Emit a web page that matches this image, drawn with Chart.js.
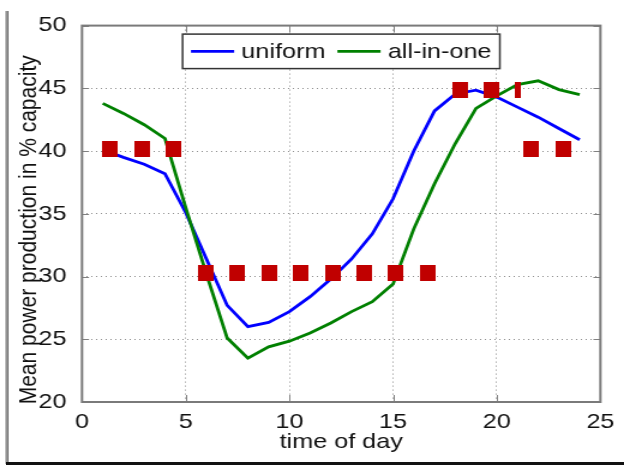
<!DOCTYPE html>
<html>
<head>
<meta charset="utf-8">
<script src="https://cdn.jsdelivr.net/npm/chart.js@4.4.0/dist/chart.umd.min.js"></script>
<style>
  html, body { margin: 0; padding: 0; background: #fff; overflow: hidden; }
  #page { position: relative; width: 624px; height: 466px; background: #fff; }
  /* the figure is drawn narrow and widened, as in the exported figure */
  #stretch { position: absolute; left: 0; top: 0; width: 520px; height: 466px;
             transform: scaleX(1.2); transform-origin: 0 0; }
  #edgeL { position: absolute; left: 5px; top: 11px; width: 4px; height: 453px;
           background: linear-gradient(to right, #d0d0d0, #7c7c7c 55%, #b8b8b8); }
  #edgeB { position: absolute; left: 6px; top: 462px; width: 618px; height: 3px; background: #111; }
</style>
</head>
<body>
<div id="page">
  <div id="stretch"><canvas id="c" width="520" height="466"></canvas></div>
  <div id="edgeL"></div>
  <div id="edgeB"></div>
</div>
<script>
// hour of day
const hours = [1, 2, 3, 4, 5, 6, 7, 8, 9, 10, 11, 12, 13, 14, 15, 16, 17, 18, 19, 20, 21, 22, 23, 24];
// mean power production (% of capacity)
const uniform  = [40.1, 39.5, 38.95, 38.2, 35.1, 31.4, 27.7, 26.0, 26.35, 27.2, 28.4, 29.8,
                  31.4, 33.4, 36.2, 40.0, 43.2, 44.55, 44.85, 44.3, 43.5, 42.7, 41.8, 40.9];
const allInOne = [43.8, 43.0, 42.1, 41.0, 35.5, 30.2, 25.1, 23.5, 24.4, 24.85, 25.5, 26.3,
                  27.2, 28.0, 29.4, 33.8, 37.4, 40.6, 43.4, 44.4, 45.3, 45.6, 44.9, 44.5];
// red level markers
const markerX = [1.35, 2.9, 4.42, 5.95, 7.49, 9.03, 10.56, 12.08, 13.62, 15.13, 16.66,
                 18.23, 19.76, 21.03, 21.67, 23.21];
const markerY = [40.2, 40.2, 40.2, 30.25, 30.25, 30.25, 30.25, 30.25, 30.25, 30.25, 30.25,
                 44.85, 44.85, 44.85, 40.2, 40.2];
const markerNarrow = [false, false, false, false, false, false, false, false, false, false, false,
                      false, false, true, false, false];
// axis ticks
const xTicks = [0, 5, 10, 15, 20, 25];
const yTicks = [20, 25, 30, 35, 40, 45, 50];
const yTitle = 'Mean power production in % capacity';

const SX = 1.2;               // horizontal widening of the canvas
const FONT = '"Liberation Sans", Arial, Helvetica, sans-serif';
const TEXT = '#111';

function markerImage(w, h) {
  const cv = document.createElement('canvas');
  cv.width = w; cv.height = h;
  const g = cv.getContext('2d');
  g.fillStyle = '#c00000';
  g.fillRect(0, 0, w, h);
  return cv;
}
const squareImg = markerImage(13, 16);
const barImg = markerImage(5, 16);

// inward tick marks, the axes box and the vertical axis title
const axesBox = {
  id: 'axesBox',
  afterDraw(chart) {
    const { ctx, chartArea: a, scales: { x, y } } = chart;
    ctx.save();
    ctx.strokeStyle = '#808080';
    ctx.lineWidth = 1;
    ctx.beginPath();
    xTicks.forEach(v => {
      const px = Math.round(x.getPixelForValue(v)) + 0.5;
      ctx.moveTo(px, a.bottom); ctx.lineTo(px, a.bottom - 7);
      ctx.moveTo(px, a.top); ctx.lineTo(px, a.top + 7);
    });
    yTicks.forEach(v => {
      const py = Math.round(y.getPixelForValue(v)) + 0.5;
      ctx.moveTo(a.left, py); ctx.lineTo(a.left + 7 / SX, py);
      ctx.moveTo(a.right, py); ctx.lineTo(a.right - 7 / SX, py);
    });
    ctx.stroke();
    ctx.lineWidth = 2;
    ctx.strokeStyle = '#7a7a7a';
    ctx.strokeRect(a.left, a.top, a.right - a.left, a.bottom - a.top);

    ctx.translate(24.5, (a.top + a.bottom) / 2 + 16);
    ctx.rotate(-Math.PI / 2);
    ctx.font = '21px ' + FONT;
    ctx.fillStyle = TEXT;
    ctx.textAlign = 'center';
    ctx.textBaseline = 'middle';
    ctx.fillText(yTitle, 0, 0);
    ctx.restore();
  }
};

// boxed legend inside the top of the plot
const boxedLegend = {
  id: 'boxedLegend',
  afterDraw(chart) {
    const { ctx, chartArea: a } = chart;
    const items = chart.data.datasets.filter(d => d.legendRank)
      .sort((p, q) => p.legendRank - q.legendRank);
    ctx.save();
    ctx.font = '21px ' + FONT;
    const lineLen = 36, gap = 6, itemGap = 10, pad = 7, boxH = 34.5;
    const widths = items.map(d => ctx.measureText(d.label).width);
    let total = 0;
    items.forEach((d, i) => { total += lineLen + gap + widths[i] + (i ? itemGap : 0); });
    const boxW = total + 2 * pad;
    const bx = (a.left + a.right) / 2 - boxW / 2;
    const by = a.top + 8.5;
    ctx.fillStyle = '#fff';
    ctx.fillRect(bx, by, boxW, boxH);
    ctx.strokeStyle = '#333';
    ctx.lineWidth = 1.5;
    ctx.strokeRect(bx, by, boxW, boxH);
    let cx = bx + pad;
    const cy = by + boxH / 2;
    ctx.textBaseline = 'middle';
    items.forEach((d, i) => {
      ctx.strokeStyle = d.borderColor;
      ctx.lineWidth = d.borderWidth;
      ctx.beginPath();
      ctx.moveTo(cx, cy); ctx.lineTo(cx + lineLen, cy);
      ctx.stroke();
      cx += lineLen + gap;
      ctx.fillStyle = TEXT;
      ctx.fillText(d.label, cx, cy + 1);
      cx += widths[i] + itemGap;
    });
    ctx.restore();
  }
};

new Chart(document.getElementById('c'), {
  type: 'line',
  data: {
    datasets: [
      {
        label: 'levels',
        type: 'scatter',
        data: markerX.map((v, i) => ({ x: v, y: markerY[i] })),
        pointStyle: ctx => (markerNarrow[ctx.dataIndex] ? barImg : squareImg),
        order: 0
      },
      {
        label: 'all-in-one',
        legendRank: 2,
        data: hours.map((h, i) => ({ x: h, y: allInOne[i] })),
        borderColor: '#008000',
        borderWidth: 2.8,
        pointRadius: 0,
        fill: false,
        tension: 0,
        order: 1
      },
      {
        label: 'uniform',
        legendRank: 1,
        data: hours.map((h, i) => ({ x: h, y: uniform[i] })),
        borderColor: '#0000ff',
        borderWidth: 2.8,
        pointRadius: 0,
        fill: false,
        tension: 0,
        order: 2
      }
    ]
  },
  options: {
    responsive: false,
    animation: false,
    devicePixelRatio: 1,
    layout: { padding: { left: 8, right: 15, top: 21, bottom: 8 } },
    plugins: { legend: { display: false }, tooltip: { enabled: false } },
    scales: {
      x: {
        type: 'linear',
        min: 0, max: 25,
        afterBuildTicks: s => { s.ticks = xTicks.map(v => ({ value: v })); },
        afterFit: s => { s.height = 56; },
        grid: { color: '#8c8c8c', lineWidth: 1, drawTicks: false },
        border: { display: false, dash: [1, 3] },
        ticks: { padding: 8, color: TEXT, font: { family: FONT, size: 21 } },
        title: { display: true, text: 'time of day', color: TEXT,
                 font: { family: FONT, size: 21 }, padding: { top: 0, bottom: 3 } }
      },
      y: {
        type: 'linear',
        min: 20, max: 50,
        afterBuildTicks: s => { s.ticks = yTicks.map(v => ({ value: v })); },
        afterFit: s => { s.width = 60.33; },
        grid: { color: '#8c8c8c', lineWidth: 1, drawTicks: false },
        border: { display: false, dash: [1, 3] },
        ticks: { padding: 13, color: TEXT, font: { family: FONT, size: 21 } }
      }
    }
  },
  plugins: [axesBox, boxedLegend]
});
</script>
</body>
</html>
